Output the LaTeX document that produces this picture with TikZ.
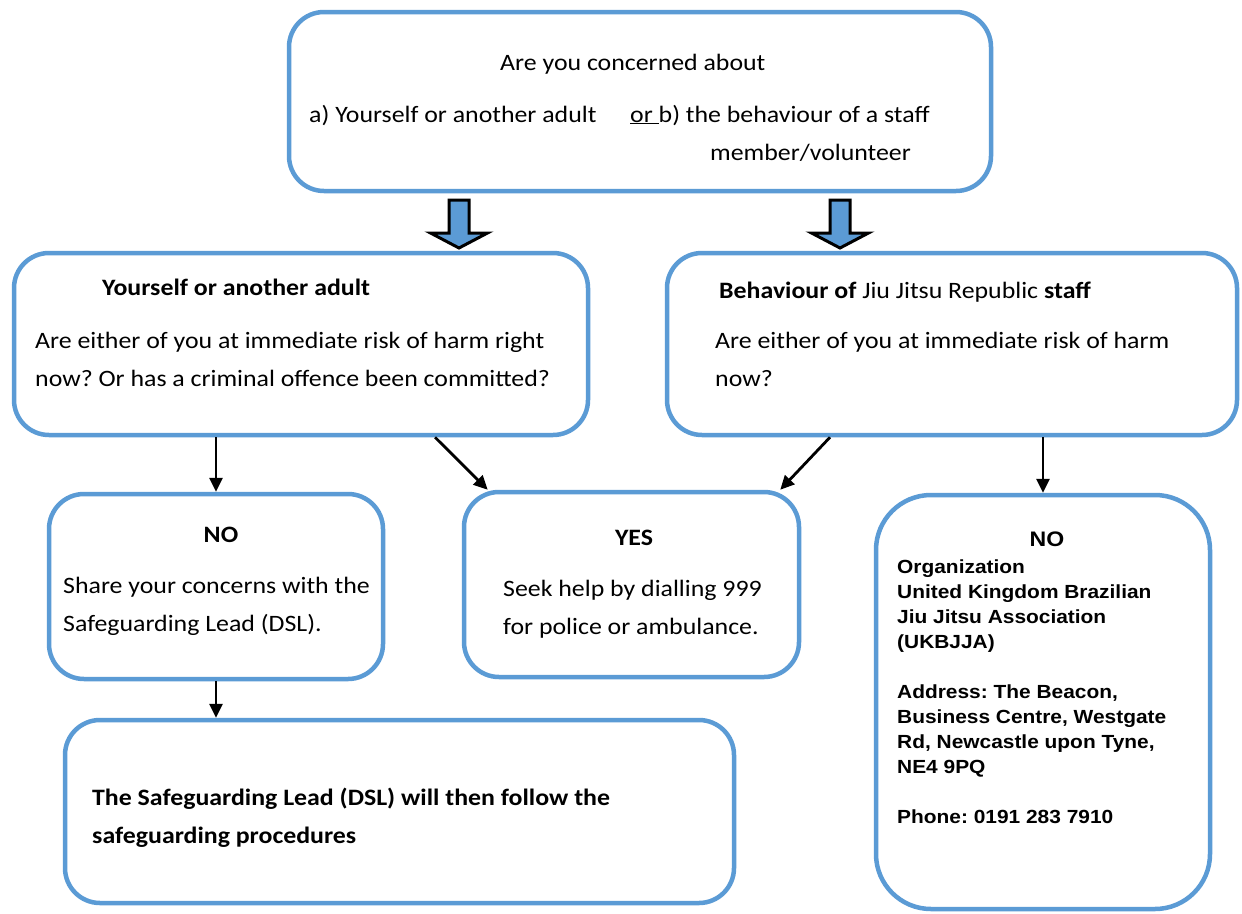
\documentclass[tikz,border=0pt]{standalone}
\usepackage{fontspec}
\setmainfont{Carlito}[FakeStretch=1.1]
\newfontfamily\addrfont{Liberation Sans}[FakeStretch=1.1]
\usetikzlibrary{arrows.meta}
\definecolor{boxblue}{HTML}{5B9BD5}
\frenchspacing

\begin{document}
\begin{tikzpicture}[x=1pt, y=-1pt, >={Triangle[length=14pt,width=13pt]}]
    \tikzset{
        flowbox/.style={draw=boxblue, line width=4.5pt, rounded corners=35pt, inner sep=0pt},
        flowtext/.style={font=\fontsize{23.5}{38}\selectfont, inner sep=0pt, align=left, anchor=base west},
        addrtext/.style={font=\addrfont\bfseries\fontsize{19}{25}\selectfont, inner sep=0pt, align=left, anchor=base west},
        flowarrow/.style={->, line width=2.8pt},
        fatarrow/.style={draw=black, fill=boxblue, line width=3pt, line join=miter}
    }
    \fill[white] (0,0) rectangle (1242,913);
    \useasboundingbox (0,0) rectangle (1242,913);
    % boxes
    \node[flowbox, minimum width=702pt, minimum height=179pt] (top) at (640,101.5) {};
    \node[flowbox, minimum width=574pt, minimum height=182pt] (lbox) at (301,344) {};
    \node[flowbox, minimum width=570pt, minimum height=182pt] (rbox) at (952,344) {};
    \node[flowbox, minimum width=334pt, minimum height=185pt] (nol) at (216,586.5) {};
    \node[flowbox, minimum width=335pt, minimum height=185pt] (yes) at (631.5,584.5) {};
    \node[flowbox, rounded corners=55pt, minimum width=334pt, minimum height=414pt] (nor) at (1043,702) {};
    \node[flowbox, minimum width=669pt, minimum height=183pt] (bot) at (399.5,811.5) {};
    % texts (multi-line ones sit on their last line)
    \node[flowtext] (qtop) at (500,70) {Are you concerned about};
    \node[flowtext] (qa) at (309,122) {a) Yourself or another adult};
    \node[flowtext] (qb) at (630,122) {\underline{or\ }b) the behaviour of a staff};
    \node[flowtext] (qc) at (710,160) {member/volunteer};
    \node[flowtext, font=\bfseries\fontsize{23.5}{38}\selectfont] (lhead) at (102,295) {Yourself or another adult};
    \node[flowtext] (lq) at (35,386) {Are either of you at immediate risk of harm right\\now? Or has a criminal offence been committed?};
    \node[flowtext] (rhead) at (719,298) {\textbf{Behaviour of} Jiu Jitsu Republic \textbf{staff}};
    \node[flowtext] (rq) at (715,386) {Are either of you at immediate risk of harm\\now?};
    \node[flowtext, anchor=base, font=\bfseries\fontsize{23.5}{38}\selectfont] (nolhead) at (221,542) {NO};
    \node[flowtext] (nolq) at (63,631) {Share your concerns with the\\Safeguarding Lead (DSL).};
    \node[flowtext, anchor=base, font=\bfseries\fontsize{23.5}{38}\selectfont] (yeshead) at (634,545) {YES};
    \node[flowtext] (yesq) at (503,634) {Seek help by dialling 999\\for police or ambulance.};
    \node[addrtext, anchor=base, font=\addrfont\bfseries\fontsize{21}{25}\selectfont] (norhead) at (1047,546) {NO};
    \node[addrtext] (norq) at (897,823) {Organization\\United Kingdom Brazilian\\Jiu Jitsu Association\\(UKBJJA)\\[25pt]Address: The Beacon,\\Business Centre, Westgate\\Rd, Newcastle upon Tyne,\\NE4 9PQ\\[25pt]Phone: 0191 283 7910};
    \node[flowtext, font=\bfseries\fontsize{23.5}{38}\selectfont] (botq) at (92,843) {The Safeguarding Lead (DSL) will then follow the\\safeguarding procedures};
    % block arrows
    \coordinate (fatL) at (459,200);
    \coordinate (fatR) at (840,200);
    \foreach \c in {fatL, fatR}
        \draw[fatarrow] (\c) ++(-10,0) -- ++(0,33) -- ++(-18.5,0) -- ++(28.5,15) -- ++(28.5,-15) -- ++(-18.5,0) -- ++(0,-33) -- cycle;
    % connectors
    \draw[flowarrow] (nol.north |- lbox.south) -- (nol.north);
    \draw[flowarrow] ([xshift=134pt]lbox.south) -- ([xshift=26pt]yes.north west);
    \draw[flowarrow] ([xshift=-122pt]rbox.south) -- ([xshift=-21pt]yes.north east);
    \draw[flowarrow] (nor.north |- rbox.south) -- (nor.north);
    \draw[flowarrow] (nol.south) -- (nol.south |- bot.north);
\end{tikzpicture}
\end{document}
